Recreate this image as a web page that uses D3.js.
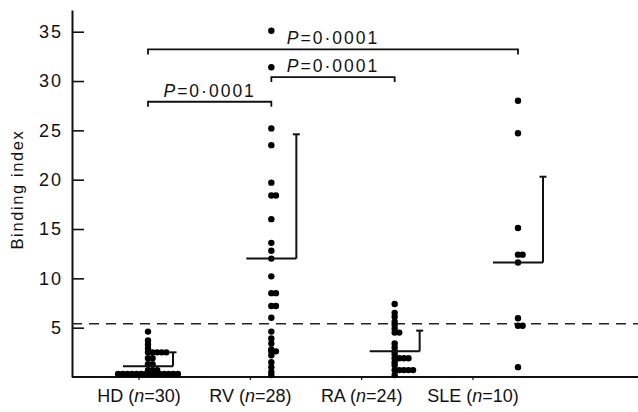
<!DOCTYPE html>
<html>
<head>
<meta charset="utf-8">
<script src="https://cdn.jsdelivr.net/npm/d3@7"></script>
<style>
  body { margin: 0; background: #fff; }
  text { font-family: "Liberation Sans", Arial, sans-serif; fill: #111; }
</style>
</head>
<body>
<div id="chart"></div>
<script>
// groups and counts
var groups = ["HD", "RV", "RA", "SLE"];
var groupN = [30, 28, 24, 10];

// binding index of each subject
var hdValues = [4.6, 3.7, 3.3, 2.9, 2.5, 2.5, 2.5, 2.5, 2.5, 1.9, 1.9, 1.3, 1.3,
                0.7, 0.7, 0.7, 0.3, 0.3, 0.3, 0.3, 0.3, 0.3, 0.3, 0.3, 0.3, 0.3,
                0.3, 0.3, 0.3, 0.3];
var rvValues = [35.1, 31.4, 25.2, 23.5, 19.7, 18.4, 18.4, 16.0, 13.6, 12.8, 12.0,
                10.2, 8.5, 8.5, 7.2, 7.2, 6.0, 4.6, 3.9, 3.4, 2.8, 2.6, 2.6, 2.2,
                1.5, 1.0, 0.5, 0.1];
var raValues = [7.4, 6.5, 6.1, 5.6, 5.3, 4.9, 4.5, 4.5, 3.4, 3.0, 2.6, 2.3,
                1.9, 1.9, 1.9, 1.9, 1.5, 1.2, 0.7, 0.7, 0.7, 0.7, 0.7, 0.2];
var sleValues = [28.0, 24.7, 15.1, 12.4, 12.4, 11.6, 5.95, 5.2, 5.2, 1.0];

// mean and mean + SD for each group
var means = [1.1, 12.0, 2.6, 11.6];
var sdTops = [2.5, 24.6, 4.7, 20.3];

// dashed cut-off line
var cutoff = 5.4;

var yTicks = [5, 10, 15, 20, 25, 30, 35];

// significance brackets: from, to, level on the y scale, label
var bracketFrom = ["HD", "RV", "HD"];
var bracketTo = ["SLE", "RA", "RV"];
var bracketLevel = [33.2, 30.4, 27.9];
var bracketLabel = ["0·0001", "0·0001", "0·0001"];

var allValues = [hdValues, rvValues, raValues, sleValues];

var width = 638, height = 412;

var svg = d3.select("#chart").append("svg")
  .attr("width", width)
  .attr("height", height);

var y = d3.scaleLinear().domain([0, 37.2]).range([377, 10]);
var x = d3.scalePoint().domain(groups).range([148, 518]);
// category labels sit a bit left of the dot columns
var xLabel = d3.scalePoint().domain(groups).range([139, 473]);

var axisLeft = 72, axisRight = 638;

// y axis, ticks pointing inward
var yAxis = svg.append("g")
  .attr("transform", "translate(" + axisLeft + ",0)")
  .call(d3.axisLeft(y).tickValues(yTicks).tickSizeInner(-12).tickSizeOuter(0).tickPadding(9));
yAxis.select(".domain").attr("stroke", "#111").attr("stroke-width", 2);
yAxis.selectAll(".tick line").attr("stroke", "#111").attr("stroke-width", 1.6);
yAxis.selectAll(".tick text")
  .style("font-family", "'Liberation Sans', Arial, sans-serif")
  .style("font-size", "18px")
  .style("letter-spacing", "2px")
  .attr("fill", "#111");

svg.append("text")
  .attr("transform", "translate(23," + y(19) + ") rotate(-90)")
  .attr("text-anchor", "middle")
  .style("font-size", "16.5px")
  .style("letter-spacing", "1.6px")
  .text("Binding index");

// x axis line
svg.append("line")
  .attr("x1", axisLeft).attr("x2", axisRight)
  .attr("y1", y(0)).attr("y2", y(0))
  .attr("stroke", "#111").attr("stroke-width", 2);

svg.selectAll(".xtick")
  .data(groups)
  .enter().append("line")
  .attr("x1", function(d) { return xLabel(d); })
  .attr("x2", function(d) { return xLabel(d); })
  .attr("y1", y(0)).attr("y2", y(0) + 3)
  .attr("stroke", "#111").attr("stroke-width", 1.2);

var labels = svg.selectAll(".xlab")
  .data(groups)
  .enter().append("text")
  .attr("x", function(d) { return xLabel(d); })
  .attr("y", 402)
  .attr("text-anchor", "middle")
  .style("font-size", "18px");
labels.append("tspan").text(function(d) { return d + " ("; });
labels.append("tspan").style("font-style", "italic").text("n");
labels.append("tspan").text(function(d, i) { return "=" + groupN[i] + ")"; });

// cut-off line
svg.append("line")
  .attr("x1", axisLeft).attr("x2", axisRight)
  .attr("y1", y(cutoff)).attr("y2", y(cutoff))
  .attr("stroke", "#222").attr("stroke-width", 1.3)
  .attr("stroke-dasharray", "10,7");

// dots: equal values are put side by side
var gap = 4.6;
groups.forEach(function(g, gi) {
  var counts = d3.rollup(allValues[gi], function(v) { return v.length; }, function(d) { return d; });
  var seen = new Map();
  var pts = allValues[gi].map(function(v) {
    var k = counts.get(v);
    var i = seen.get(v) || 0;
    seen.set(v, i + 1);
    var shift = k >= 6 ? (i - (k - 1) / 2) : i;
    return { value: v, dx: shift * gap };
  });
  svg.append("g").selectAll("circle")
    .data(pts)
    .enter().append("circle")
    .attr("cx", function(d) { return x(g) + d.dx; })
    .attr("cy", function(d) { return Math.min(y(d.value), y(0) - 2); })
    .attr("r", 3.2)
    .attr("fill", "#000");
});

// mean line and SD bar
var half = 25, cap = 3.5;
var stats = svg.append("g").attr("stroke", "#111").attr("stroke-width", 2).attr("fill", "none");
groups.forEach(function(g, gi) {
  var cx = x(g);
  stats.append("line")
    .attr("x1", cx - half).attr("x2", cx + half)
    .attr("y1", y(means[gi])).attr("y2", y(means[gi]));
  stats.append("line")
    .attr("x1", cx + half).attr("x2", cx + half)
    .attr("y1", y(means[gi])).attr("y2", y(sdTops[gi]));
  stats.append("line")
    .attr("x1", cx + half - cap).attr("x2", cx + half + cap)
    .attr("y1", y(sdTops[gi])).attr("y2", y(sdTops[gi]));
});

// significance brackets
bracketFrom.forEach(function(a, i) {
  var x1 = x(a), x2 = x(bracketTo[i]), by = y(bracketLevel[i]);
  svg.append("path")
    .attr("d", "M" + x1 + "," + (by + 5) + "V" + by + "H" + x2 + "V" + (by + 5))
    .attr("stroke", "#111").attr("stroke-width", 1.8).attr("fill", "none");
  var t = svg.append("text")
    .attr("x", (x1 + x2) / 2)
    .attr("y", by - 5)
    .attr("text-anchor", "middle")
    .style("font-size", "17.5px")
    .style("letter-spacing", "2px");
  t.append("tspan").style("font-style", "italic").text("P");
  t.append("tspan").text("=" + bracketLabel[i]);
});
</script>
</body>
</html>
